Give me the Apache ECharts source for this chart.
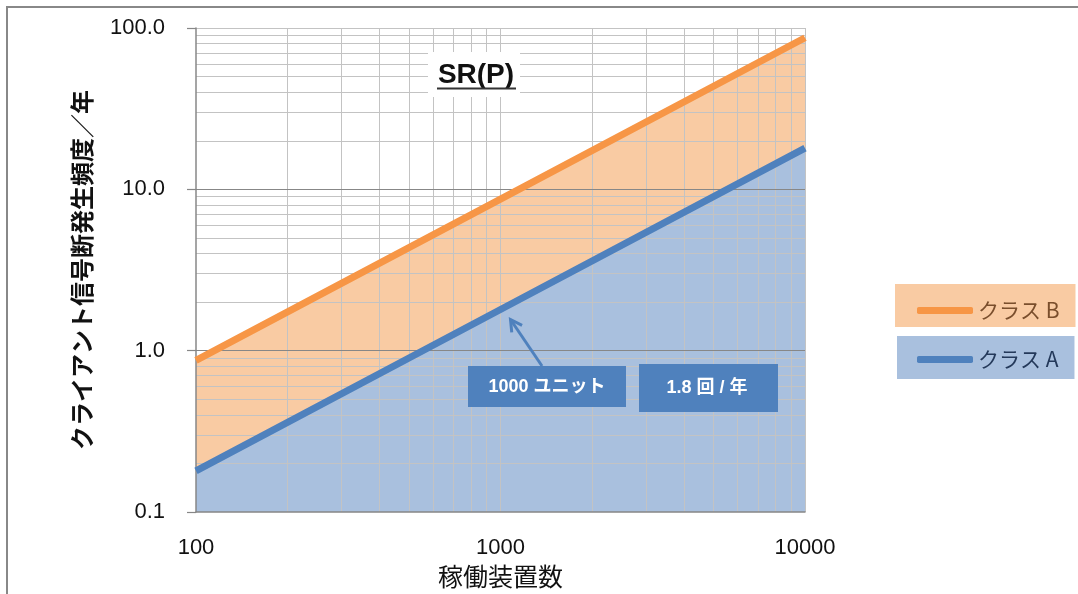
<!DOCTYPE html>
<html>
<head>
<meta charset="utf-8">
<script src="https://cdn.jsdelivr.net/npm/echarts@6/dist/echarts.min.js"></script>
<style>
  html, body { margin: 0; padding: 0; background: #ffffff; }
  #chart { width: 1078px; height: 594px; }
</style>
</head>
<body>
<div id="chart"></div>
<script>
// Operating units (x) and yearly client-signal-loss frequency (y), log–log
const units = [100, 1000, 10000];
const classA = [0.18, 1.8, 18];
const classB = [0.87, 8.7, 87];
const nameB = 'クラス B';
const nameA = 'クラス A';

// Gridline values (1–9 steps of each decade)
const xGridLight = [200, 300, 400, 500, 600, 700, 800, 900, 1000,
                    2000, 3000, 4000, 5000, 6000, 7000, 8000, 9000, 10000];
const yGridLight = [0.2, 0.3, 0.4, 0.5, 0.6, 0.7, 0.8, 0.9,
                    2, 3, 4, 5, 6, 7, 8, 9,
                    20, 30, 40, 50, 60, 70, 80, 90, 100];
const yGridDark = [1, 10];

// Callout: a reading of class A
const calloutUnits = 1000;
const calloutRate = 1.8;
const calloutUnitText = calloutUnits + ' ユニット';
const calloutRateText = calloutRate.toFixed(1) + ' 回 / 年';

const ORANGE = '#F79646', ORANGE_FILL = '#F9CBA3';
const BLUE = '#4F81BD', BLUE_FILL = '#A9C0DE';
const LIGHT = '#C3C3C3', DARK = '#878787';
const NUM_FONT = '"Liberation Sans", "Noto Sans CJK JP", sans-serif';
const JP_FONT = '"Noto Sans CJK JP", "Liberation Sans", sans-serif';

const pairs = arr => units.map((u, i) => [u, arr[i]]);

const chart = echarts.init(document.getElementById('chart'), null, { renderer: 'canvas' });

const gridLines = [
  ...xGridLight.map(v => ({ xAxis: v, lineStyle: { color: LIGHT, width: 1, type: 'solid' } })),
  ...yGridLight.map(v => ({ yAxis: v, lineStyle: { color: LIGHT, width: 1, type: 'solid' } })),
  ...yGridDark.map(v => ({ yAxis: v, lineStyle: { color: DARK, width: 1.2, type: 'solid' } }))
];

const option = {
  animation: false,
  backgroundColor: '#ffffff',
  grid: { left: 196, right: 273, top: 28, bottom: 82 },
  xAxis: {
    type: 'log', logBase: 10, min: 100, max: 10000, z: 4,
    axisLine: { show: true, lineStyle: { color: DARK, width: 1.5 } },
    axisTick: { show: false },
    splitLine: { show: false },
    axisLabel: {
      margin: 25, fontSize: 22, color: '#111', fontFamily: NUM_FONT,
      formatter: v => String(Math.round(v))
    },
    name: '稼働装置数', nameLocation: 'middle', nameGap: 50,
    nameTextStyle: { fontSize: 25, color: '#111', fontFamily: JP_FONT }
  },
  yAxis: {
    type: 'log', logBase: 10, min: 0.1, max: 100, z: 4,
    axisLine: { show: true, lineStyle: { color: DARK, width: 1.5 } },
    axisTick: { show: true, inside: false, length: 9, lineStyle: { color: DARK, width: 1.2 } },
    splitLine: { show: false },
    axisLabel: {
      margin: 31, fontSize: 22, color: '#111', fontFamily: NUM_FONT,
      formatter: v => Number(v).toFixed(1)
    },
    name: 'クライアント信号断発生頻度／年', nameLocation: 'middle', nameGap: 102, nameRotate: 90,
    nameTextStyle: { fontSize: 24, fontWeight: 'bold', color: '#111', fontFamily: JP_FONT }
  },
  legend: [
    {
      data: [{ name: nameB, icon: 'roundRect', itemStyle: { color: ORANGE } }],
      left: 895, top: 284, orient: 'horizontal', selectedMode: false,
      backgroundColor: ORANGE_FILL, padding: [16, 16, 6, 22],
      itemWidth: 56, itemHeight: 7, itemGap: 0,
      textStyle: { fontSize: 21, color: '#7A4E2C', fontFamily: JP_FONT }
    },
    {
      data: [{ name: nameA, icon: 'roundRect', itemStyle: { color: BLUE } }],
      left: 897, top: 336, orient: 'horizontal', selectedMode: false,
      backgroundColor: BLUE_FILL, padding: [13, 16, 9, 20],
      itemWidth: 56, itemHeight: 7, itemGap: 0,
      textStyle: { fontSize: 21, color: '#24395A', fontFamily: JP_FONT }
    }
  ],
  series: [
    // filled bands (below gridlines)
    {
      name: nameB, type: 'line', data: pairs(classB), symbol: 'none', silent: true, z: 1,
      lineStyle: { width: 0 }, itemStyle: { color: ORANGE },
      areaStyle: { color: ORANGE_FILL, opacity: 1, origin: 'start' }
    },
    {
      name: nameA, type: 'line', data: pairs(classA), symbol: 'none', silent: true, z: 1,
      lineStyle: { width: 0 }, itemStyle: { color: BLUE },
      areaStyle: { color: BLUE_FILL, opacity: 1, origin: 'start' }
    },
    // gridlines over the fills
    {
      type: 'line', data: [], silent: true, z: 3,
      markLine: {
        z: 3, silent: true, symbol: ['none', 'none'], animation: false,
        label: { show: false }, emphasis: { disabled: true },
        data: gridLines
      }
    },
    // the two class lines on top
    {
      name: nameB, type: 'line', data: pairs(classB), symbol: 'none', z: 6,
      lineStyle: { width: 7, color: ORANGE }, itemStyle: { color: ORANGE }
    },
    {
      name: nameA, type: 'line', data: pairs(classA), symbol: 'none', z: 6,
      lineStyle: { width: 7, color: BLUE }, itemStyle: { color: BLUE }
    }
  ]
};

chart.setOption(option);

// Frame, title and callout drawn after the scales are known
const p = chart.convertToPixel({ gridIndex: 0 }, [calloutUnits, calloutRate]);
const head = [p[0] + 10, p[1] + 10];
const tail = [542, 366];
const ang = Math.atan2(tail[1] - head[1], tail[0] - head[0]);
const wing = 13, spread = 0.5;
const w1 = [head[0] + wing * Math.cos(ang + spread), head[1] + wing * Math.sin(ang + spread)];
const w2 = [head[0] + wing * Math.cos(ang - spread), head[1] + wing * Math.sin(ang - spread)];

chart.setOption({
  graphic: [
    {
      type: 'rect', silent: true, z: 0,
      shape: { x: 7, y: 7, width: 1200, height: 700 },
      style: { fill: null, stroke: '#888888', lineWidth: 2 }
    },
    {
      type: 'rect', silent: true, z: 10,
      shape: { x: 428, y: 52, width: 92, height: 45 },
      style: { fill: '#ffffff' }
    },
    {
      type: 'text', silent: true, z: 11, x: 476, y: 75,
      style: {
        text: 'SR(P)', fill: '#111', align: 'center', verticalAlign: 'middle',
        fontSize: 28, fontWeight: 'bold', fontFamily: NUM_FONT
      }
    },
    {
      type: 'line', silent: true, z: 11,
      shape: { x1: 437, y1: 88.5, x2: 516, y2: 88.5 },
      style: { stroke: '#333', lineWidth: 2 }
    },
    {
      type: 'line', silent: true, z: 11,
      shape: { x1: tail[0], y1: tail[1], x2: head[0], y2: head[1] },
      style: { stroke: BLUE, lineWidth: 3 }
    },
    {
      type: 'polyline', silent: true, z: 11,
      shape: { points: [w1, head, w2] },
      style: { stroke: BLUE, lineWidth: 3, fill: null, lineJoin: 'miter' }
    },
    {
      type: 'rect', silent: true, z: 12,
      shape: { x: 468, y: 366, width: 158, height: 41 },
      style: { fill: BLUE }
    },
    {
      type: 'text', silent: true, z: 13, x: 547, y: 387,
      style: {
        text: calloutUnitText, fill: '#ffffff', align: 'center', verticalAlign: 'middle',
        fontSize: 18, fontWeight: 'bold', fontFamily: NUM_FONT
      }
    },
    {
      type: 'rect', silent: true, z: 12,
      shape: { x: 639, y: 364, width: 139, height: 48 },
      style: { fill: BLUE }
    },
    {
      type: 'text', silent: true, z: 13, x: 707, y: 388,
      style: {
        text: calloutRateText, fill: '#ffffff', align: 'center', verticalAlign: 'middle',
        fontSize: 18, fontWeight: 'bold', fontFamily: NUM_FONT
      }
    }
  ]
});
</script>
</body>
</html>
